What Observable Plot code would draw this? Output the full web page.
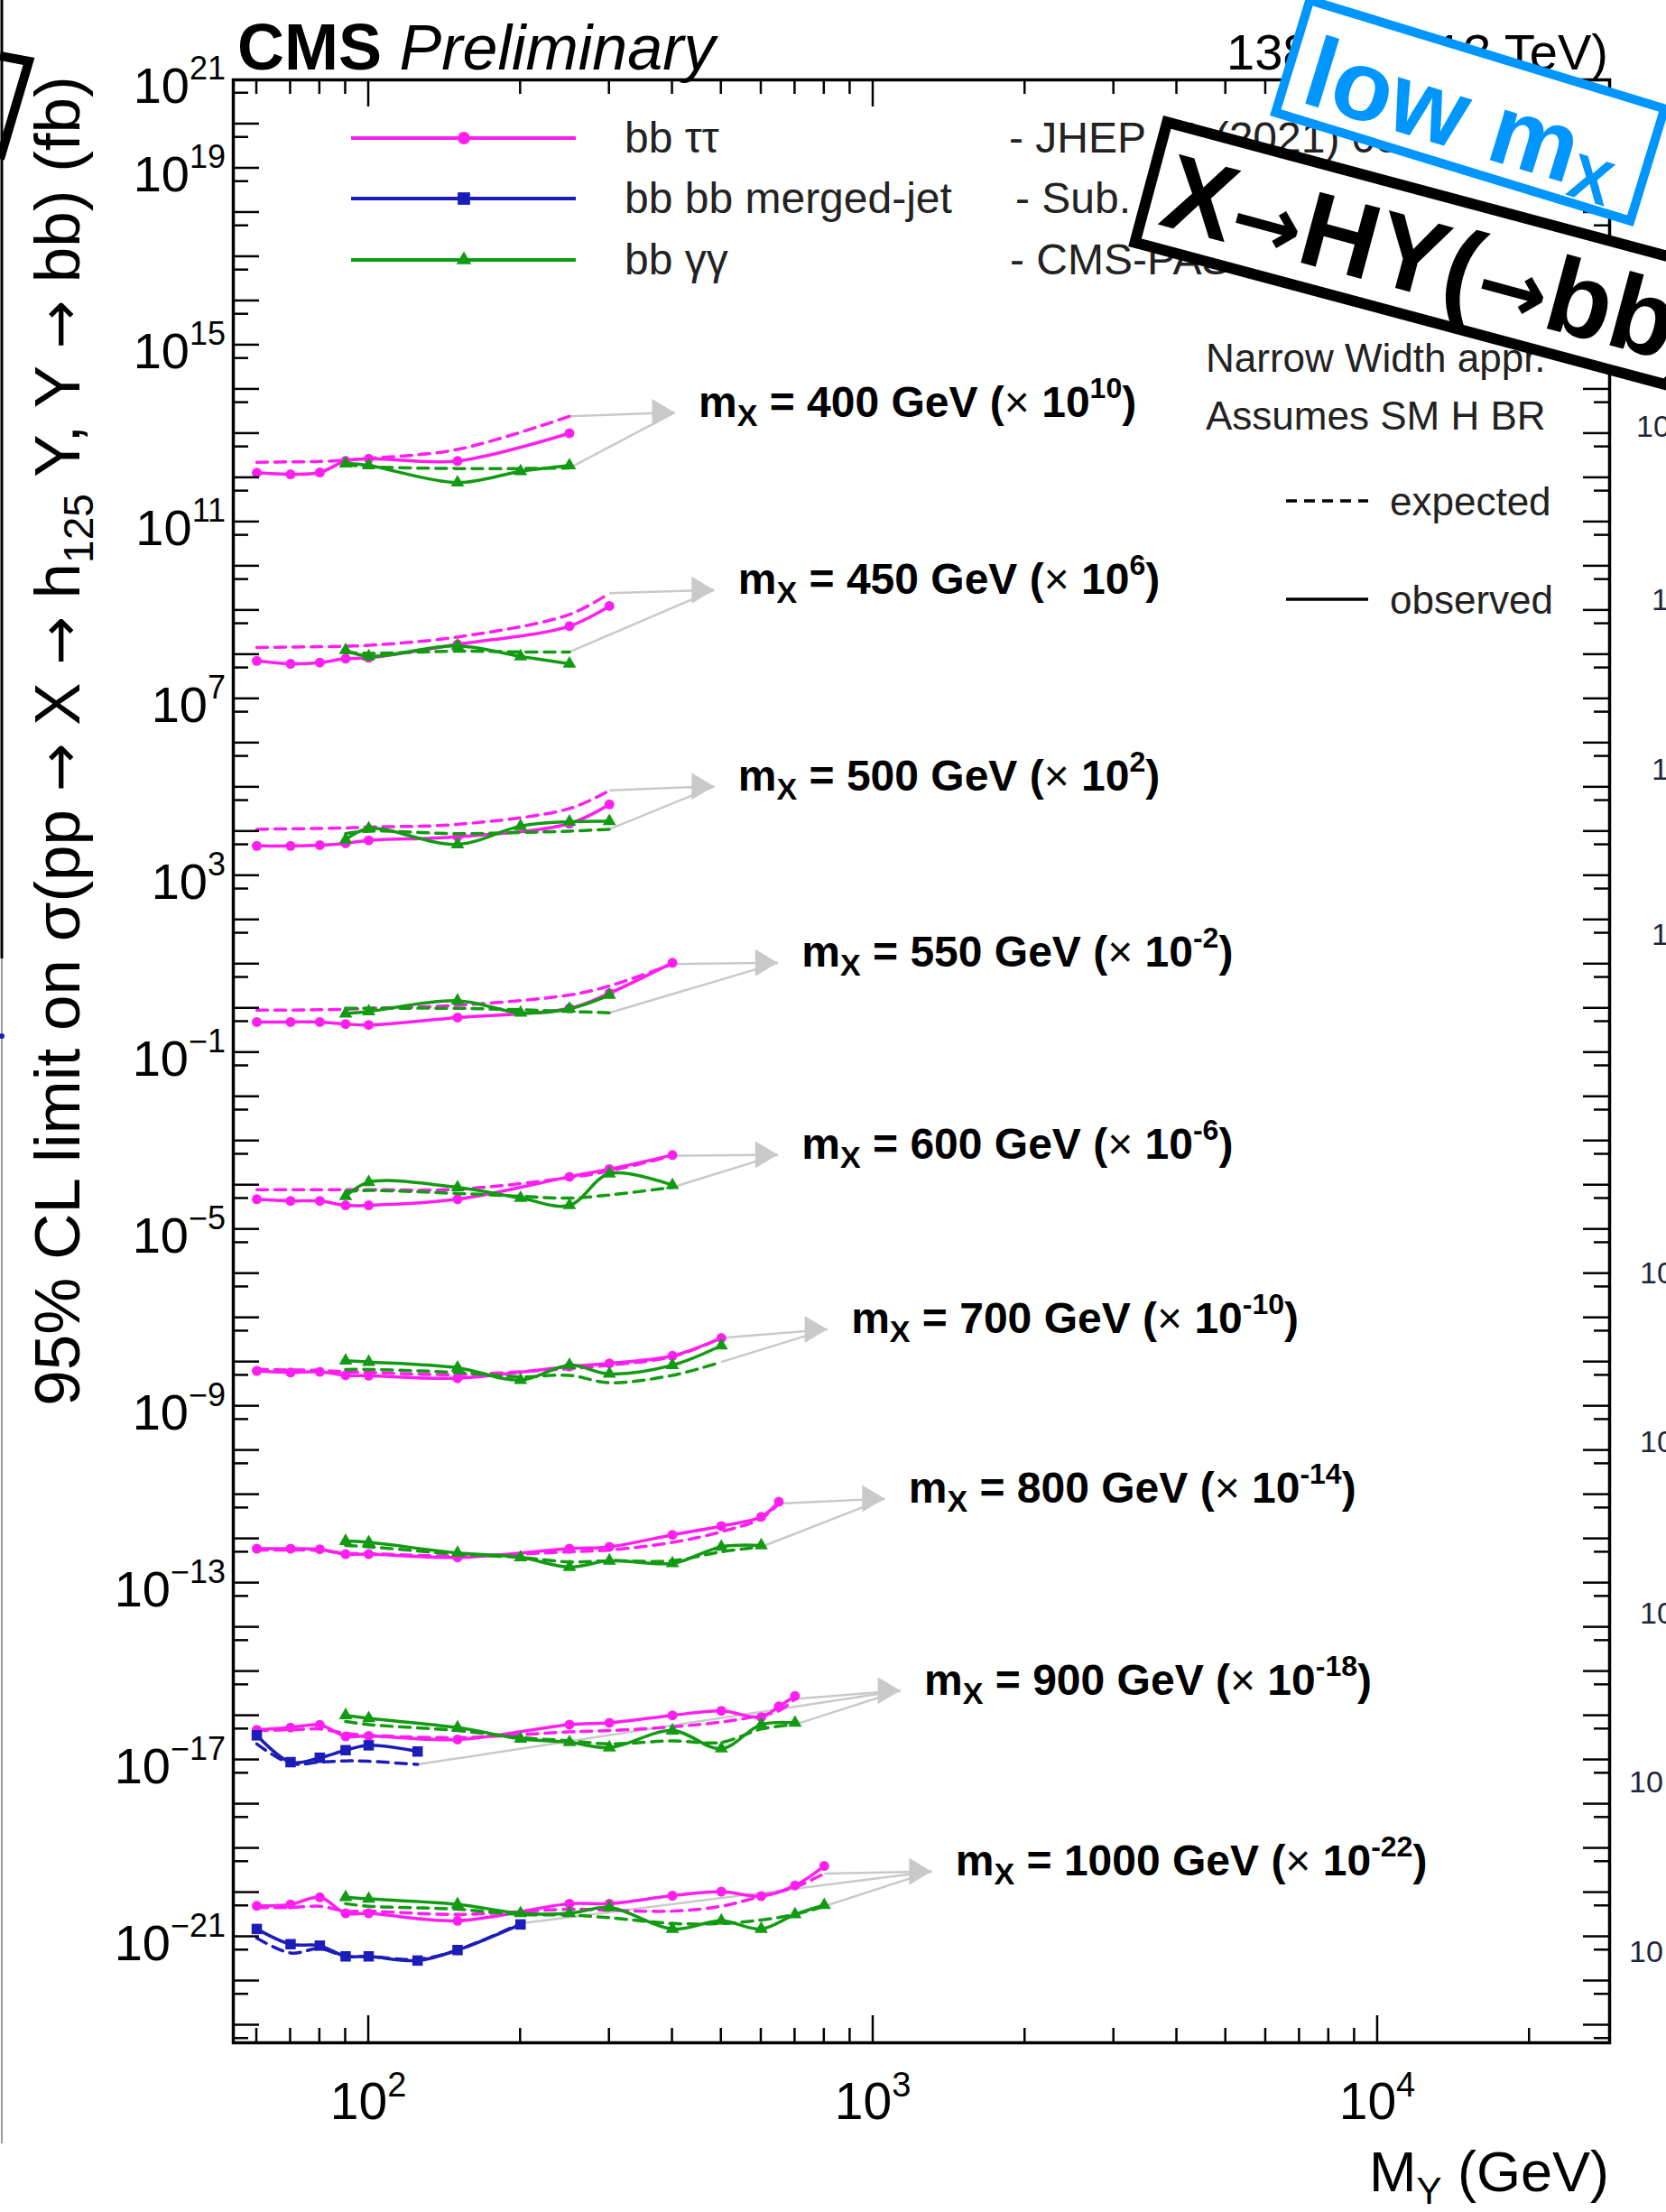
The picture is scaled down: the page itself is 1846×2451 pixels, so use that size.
<!DOCTYPE html>
<html><head><meta charset="utf-8">
<script src="https://cdn.jsdelivr.net/npm/d3@7"></script>
<script src="https://cdn.jsdelivr.net/npm/@observablehq/plot@0.6"></script>
<style>
html,body{margin:0;padding:0;background:#fff;}
#page{position:relative;width:1846px;height:2451px;overflow:hidden;background:#fff;font-family:"Liberation Sans",Arial,Helvetica,sans-serif;}
#chart{position:absolute;left:0;top:0;}
.ov{position:absolute;transform-origin:0 0;overflow:visible;}
</style></head><body>
<div id="page"><div id="chart"></div></div>
<script>
const FONT = '"Liberation Sans", Arial, Helvetica, sans-serif';
const ARROWFONT = '"DejaVu Sans", "Liberation Sans", sans-serif';

// ---- data ----
const massPoints = [400, 450, 500, 550, 600, 700, 800, 900, 1000];
const scaleExp   = [10, 6, 2, -2, -6, -10, -14, -18, -22];

// bb tau tau : mY (GeV) and limits (fb)
const ttMY = [
  [60,70,80,90,100,150,250],
  [60,70,80,90,100,150,250,300],
  [60,70,80,90,100,150,250,300],
  [60,70,80,90,100,150,250,300,400],
  [60,70,80,90,100,150,250,300,400],
  [60,70,80,90,100,150,250,300,400,500],
  [60,70,80,90,100,150,250,300,400,500,600,650],
  [60,70,80,90,100,150,250,300,400,500,600,650,700],
  [60,70,80,90,100,150,250,300,400,500,600,700,800]
];
const ttObs = [
  [130,120,132,240,270,240,1020],
  [72,62,66,81,85,170,440,1260],
  [47,47,49,54,63,76,151,410],
  [49,49,49,44,42,62,100,220,1070],
  [48,44,44,35,35,48,155,230,480],
  [63,58,60,50,49,43,79,93,138,350],
  [60,60,58,45,45,38,60,66,123,195,316,690],
  [48,54,62,34,35,29,63,69,102,129,93,162,280],
  [50,54,78,34,34,23,56,56,85,105,83,145,400]
];
const ttExp = [
  [224,229,234,251,275,437,2450],
  [145,148,151,155,162,250,810,2450],
  [112,115,117,120,126,145,330,850],
  [91,91,93,95,100,117,200,320,1000],
  [79,79,79,79,79,81,148,210,460],
  [68,66,65,60,58,52,71,85,132,350],
  [56,56,55,47,46,41,51,56,83,145,290,630],
  [46,48,50,40,36,32,43,46,56,72,102,129,240],
  [46,46,49,38,38,32,42,40,38,49,83,132,270]
];

// bb gamma gamma
const ggMY = [
  [90,100,150,200,250],
  [90,100,150,200,250],
  [90,100,150,200,250,300],
  [90,100,150,200,250,300],
  [90,100,150,200,250,300,400],
  [90,100,150,200,250,300,400,500],
  [90,100,150,200,250,300,400,500,600],
  [90,100,150,200,250,300,400,500,600,700],
  [90,100,150,200,250,300,400,500,600,700,800]
];
const ggObs = [
  [210,190,78,140,190],
  [126,91,158,91,62],
  [65,117,51,132,166,170],
  [76,85,148,79,98,200],
  [56,117,89,51,35,182,100],
  [107,100,74,39,85,54,85,235],
  [89,83,48,38,23,32,28,66,71],
  [102,87,54,30,25,19,46,18,63,69],
  [78,72,54,34,34,46,15,23,15,32,52]
];
const ggExp = [
  [200,178,162,162,166],
  [112,107,120,115,115],
  [89,102,89,95,102,112],
  [100,100,100,93,85,79],
  [71,76,65,56,51,60,89],
  [68,68,58,46,50,34,50,100],
  [71,66,45,38,30,32,32,51,66],
  [74,63,46,32,27,23,27,25,50,63],
  [56,49,42,32,31,27,20,20,24,32,49]
];

// bb bb merged-jet
const bbMass = [900, 1000];
const bbMY  = [[60,70,80,90,100,125],[60,70,80,90,100,125,150,200]];
const bbObs = [[36,8.9,11.2,16.6,21.4,15.5],[15,6.8,6.3,3.6,3.6,2.9,5.0,19]];
const bbExp = [[23,8.3,8.9,9.5,9.3,7.9],[9.3,4.3,5.4,3.6,3.6,3.1,5.0,20]];

// label arrow tips (mY, scaled value)
const labelMY = [404, 484, 484, 647, 647, 811, 1054, 1132, 1306];
const labelY  = [3.0e13, 2.9e9, 1.05e5, 10.7, 4.9e-4, 5.5e-8, 8.1e-12, 3.7e-16, 3.0e-20];

const yTickLabelExps = [21, 19, 15, 11, 7, 3, -1, -5, -9, -13, -17, -21];
const xTickLabelExps = [2, 3, 4];
const xDomain = [53.9, 28830];
const yDomain = [4e-24, 1e21];

const colors = {tt: "#ff1ef0", bb: "#1c1cb8", gg: "#139a13"};
const arrowGray = "#c9c9c9";

// ---- build tables ----
function rowsFor(ana, masses, mys, obs, exp) {
  const out = [];
  masses.forEach((m, i) => {
    const f = Math.pow(10, scaleExp[massPoints.indexOf(m)]);
    mys[i].forEach((x, j) => out.push({ana, m, x, obs: obs[i][j] * f, exp: exp[i][j] * f}));
  });
  return out;
}
const tt = rowsFor("tt", massPoints, ttMY, ttObs, ttExp);
const gg = rowsFor("gg", massPoints, ggMY, ggObs, ggExp);
const bb = rowsFor("bb", bbMass, bbMY, bbObs, bbExp);

const tips = massPoints.map((m, i) => ({m, x: labelMY[i], y: labelY[i]}));
const arrows = [];
for (const set of [tt, gg, bb]) {
  massPoints.forEach((m, i) => {
    const pts = set.filter(d => d.m === m);
    if (!pts.length) return;
    const last = pts[pts.length - 1];
    arrows.push({x1: last.x, y1: last.exp, x2: tips[i].x, y2: tips[i].y});
  });
}
const arrowHead = {draw(ctx) { ctx.moveTo(0, 0); ctx.lineTo(-25, -15); ctx.lineTo(-25, 15); ctx.closePath(); }};

const lineOpts = (ana, key) => ({x: "x", y: key, z: "m", stroke: colors[ana], strokeWidth: 3.5, curve: "catmull-rom"});

const plot = Plot.plot({
  width: 1846, height: 2451,
  marginLeft: 258, marginRight: 63, marginTop: 88, marginBottom: 188,
  style: {background: "transparent", fontFamily: FONT, overflow: "visible"},
  x: {type: "log", domain: xDomain, axis: null},
  y: {type: "log", domain: yDomain, axis: null},
  marks: [
    Plot.link(arrows, {x1: "x1", y1: "y1", x2: "x2", y2: "y2", stroke: arrowGray, strokeWidth: 2.5}),
    Plot.dot(tips, {x: "x", y: "y", symbol: arrowHead, fill: arrowGray, stroke: "none"}),
    Plot.line(tt, {...lineOpts("tt", "exp"), strokeDasharray: "12,8"}),
    Plot.line(tt, lineOpts("tt", "obs")),
    Plot.dot(tt, {x: "x", y: "obs", symbol: "circle", r: 5.5, fill: colors.tt}),
    Plot.line(bb, {...lineOpts("bb", "exp"), strokeDasharray: "12,8"}),
    Plot.line(bb, lineOpts("bb", "obs")),
    Plot.dot(bb, {x: "x", y: "obs", symbol: "square", r: 6.5, fill: colors.bb}),
    Plot.line(gg, {...lineOpts("gg", "exp"), strokeDasharray: "12,8"}),
    Plot.line(gg, lineOpts("gg", "obs")),
    Plot.dot(gg, {x: "x", y: "obs", symbol: "triangle", r: 5.5, fill: colors.gg}),
    Plot.frame({strokeWidth: 3.5})
  ]
});
document.getElementById("chart").appendChild(plot);

const svg = d3.select(plot);
const sx = plot.scale("x"), sy = plot.scale("y");
const [X0, X1] = sx.range;
const [Y0, Y1] = sy.range;

// ---- ticks (inward, ROOT style) ----
const tg = svg.append("g").attr("stroke", "#000").attr("stroke-width", 2.5);
for (let k = -24; k <= 21; k++) {
  for (const [v, L] of [[Math.pow(10, k), 29], [5 * Math.pow(10, k), 17]]) {
    if (v <= yDomain[0] || v >= yDomain[1] * 0.999) continue;
    const y = sy.apply(v);
    tg.append("line").attr("x1", X0).attr("x2", X0 + L).attr("y1", y).attr("y2", y);
    tg.append("line").attr("x1", X1).attr("x2", X1 - L).attr("y1", y).attr("y2", y);
  }
}
for (let k = 1; k <= 4; k++) {
  for (let m = 1; m <= 9; m++) {
    const v = m * Math.pow(10, k);
    if (v <= xDomain[0] || v >= xDomain[1]) continue;
    const L = m === 1 ? 30 : 16;
    const x = sx.apply(v);
    tg.append("line").attr("x1", x).attr("x2", x).attr("y1", Y0).attr("y2", Y0 - L);
    tg.append("line").attr("x1", x).attr("x2", x).attr("y1", Y1).attr("y2", Y1 + L);
  }
}

// ---- tick labels ----
const lg = svg.append("g").attr("font-family", FONT).attr("fill", "#000").attr("text-anchor", "start");
for (const e of yTickLabelExps) {
  const y = sy.apply(Math.pow(10, e));
  const t = lg.append("text").attr("x", 250).attr("y", y + 26).attr("text-anchor", "end").attr("font-size", 56);
  t.append("tspan").text("10");
  t.append("tspan").attr("font-size", 36).attr("dy", -26).text(e < 0 ? "\u2212" + (-e) : String(e));
}
for (const e of xTickLabelExps) {
  const x = sx.apply(Math.pow(10, e));
  const t = lg.append("text").attr("x", x).attr("y", 2348).attr("text-anchor", "middle").attr("font-size", 57);
  t.append("tspan").text("10");
  t.append("tspan").attr("font-size", 38).attr("dy", -25).text(String(e));
}

// ---- axis titles ----
const xt = lg.append("text").attr("x", X1).attr("y", 2428).attr("text-anchor", "end").attr("font-size", 63);
xt.append("tspan").text("M");
xt.append("tspan").attr("font-size", 42).attr("dy", 14).text("Y");
xt.append("tspan").attr("dy", -14).text(" (GeV)");

const yt = lg.append("text").attr("transform", "translate(88,821) rotate(-90)").attr("text-anchor", "middle").attr("font-size", 71);
const arrowSpan = (sel) => sel.append("tspan").attr("font-family", ARROWFONT).attr("font-size", 64).text("\u2192");
yt.append("tspan").text("95% CL limit on \u03c3(pp ");
arrowSpan(yt);
yt.append("tspan").text(" X ");
arrowSpan(yt);
yt.append("tspan").text(" h");
yt.append("tspan").attr("font-size", 46).attr("dy", 15).text("125");
yt.append("tspan").attr("dy", -15).text(" Y, Y ");
arrowSpan(yt);
yt.append("tspan").text(" bb) (fb)");

// ---- CMS header ----
const cms = lg.append("text").attr("x", 263).attr("y", 77);
cms.append("tspan").attr("font-weight", "bold").attr("font-size", 72).text("CMS");
cms.append("tspan").attr("font-style", "italic").attr("font-size", 70).text(" Preliminary");
const lumi = lg.append("text").attr("x", 1782).attr("y", 77).attr("text-anchor", "end").attr("font-size", 56);
lumi.append("tspan").text("138 fb");
lumi.append("tspan").attr("font-size", 36).attr("dy", -22).text("\u22121");
lumi.append("tspan").attr("dy", 22).text(" (13 TeV)");

// ---- legend ----
const legendRows = [
  {y: 153, color: colors.tt, sym: d3.symbolCircle, size: 150, name: "bb \u03c4\u03c4", ref: "- JHEP 11 (2021) 057", refX: 1118},
  {y: 220, color: colors.bb, sym: d3.symbolSquare, size: 190, name: "bb bb merged-jet", ref: "- Sub. to PLB", refX: 1125},
  {y: 288, color: colors.gg, sym: d3.symbolTriangle, size: 120, name: "bb \u03b3\u03b3", ref: "- CMS-PAS-HIG-21-011", refX: 1119}
];
for (const r of legendRows) {
  lg.append("line").attr("x1", 389).attr("x2", 638).attr("y1", r.y).attr("y2", r.y).attr("stroke", r.color).attr("stroke-width", 4);
  lg.append("path").attr("d", d3.symbol(r.sym, r.size)()).attr("transform", `translate(514,${r.y})`).attr("fill", r.color);
  lg.append("text").attr("x", 692).attr("y", r.y + 16).attr("font-size", 48).attr("fill", "#222").text(r.name);
  lg.append("text").attr("x", r.refX).attr("y", r.y + 16).attr("font-size", 48).attr("fill", "#222").text(r.ref);
}
lg.append("text").attr("x", 1336).attr("y", 412).attr("font-size", 44).attr("fill", "#222").text("Narrow Width appr.");
lg.append("text").attr("x", 1336).attr("y", 476).attr("font-size", 44).attr("fill", "#222").text("Assumes SM H BR");
lg.append("line").attr("x1", 1425).attr("x2", 1516).attr("y1", 555).attr("y2", 555).attr("stroke", "#000").attr("stroke-width", 3.5).attr("stroke-dasharray", "12,8");
lg.append("text").attr("x", 1540).attr("y", 571).attr("font-size", 44).attr("fill", "#222").text("expected");
lg.append("line").attr("x1", 1425).attr("x2", 1516).attr("y1", 664).attr("y2", 664).attr("stroke", "#000").attr("stroke-width", 3.5);
lg.append("text").attr("x", 1540).attr("y", 680).attr("font-size", 44).attr("fill", "#222").text("observed");

// ---- mass labels ----
const ml = svg.append("g").attr("font-family", FONT).attr("font-weight", "bold").attr("font-size", 48).attr("fill", "#000").attr("text-anchor", "start");
massPoints.forEach((m, i) => {
  const X = sx.apply(labelMY[i]) + 27, Y = sy.apply(labelY[i]) + 5;
  const e = scaleExp[i];
  const t = ml.append("text").attr("x", X).attr("y", Y);
  t.append("tspan").text("m");
  t.append("tspan").attr("font-size", 34).attr("dy", 10).text("X");
  t.append("tspan").attr("dy", -10).text(` = ${m} GeV (`);
  t.append("tspan").attr("font-weight", "normal").text("\u00d7");
  t.append("tspan").text(" 10");
  t.append("tspan").attr("font-size", 32).attr("dy", -21).text(e < 0 ? "-" + (-e) : String(e));
  t.append("tspan").attr("dy", 21).text(")");
});

// ---- slide overlays ----
const page = document.getElementById("page");
page.insertAdjacentHTML("beforeend", `
<svg class="ov" style="left:0;top:0" width="1846" height="2451">
  <polyline points="0,62 32,68 0,176" fill="none" stroke="#000" stroke-width="10"/>
  <line x1="2" y1="0" x2="2" y2="1062" stroke="#000" stroke-width="3"/>
  <line x1="2" y1="1062" x2="2" y2="2375" stroke="#999" stroke-width="2"/>
  <circle cx="2" cy="1148" r="3" fill="#1c1cb8"/>
  <g font-family='${FONT}' font-size="34" fill="#1f2540" text-anchor="start">
    <text x="1813" y="484">10</text>
    <text x="1830" y="676">10</text>
    <text x="1830" y="864">10</text>
    <text x="1830" y="1047">10</text>
    <text x="1817" y="1422">10</text>
    <text x="1817" y="1609">10</text>
    <text x="1817" y="1799">10</text>
    <text x="1805" y="1986">10</text>
    <text x="1805" y="2174">10</text>
  </g>
</svg>
<div class="ov" style="left:1289px;top:128px;transform:rotate(15deg)">
  <svg width="820" height="150" style="display:block;overflow:visible">
    <rect x="6" y="6" width="808" height="138" fill="#fff" stroke="#000" stroke-width="12"/>
    <text x="24" y="118" font-family='${FONT}' font-weight="bold" font-size="118" fill="#000" text-anchor="start">X<tspan font-family='${ARROWFONT}' font-size="94">\u2192</tspan>HY(<tspan font-family='${ARROWFONT}' font-size="94">\u2192</tspan>bb)</text>
  </svg>
</div>
<div class="ov" style="left:1448px;top:-6px;transform:rotate(17deg)">
  <svg width="421" height="140" style="display:block;overflow:visible">
    <rect x="5" y="5" width="411" height="130" fill="#fff" stroke="#0096ff" stroke-width="10"/>
    <text x="26" y="116" font-family='${FONT}' font-weight="bold" font-size="110" fill="#0096ff" text-anchor="start">low m<tspan font-size="70" dy="12">X</tspan></text>
  </svg>
</div>`);
</script></body></html>
